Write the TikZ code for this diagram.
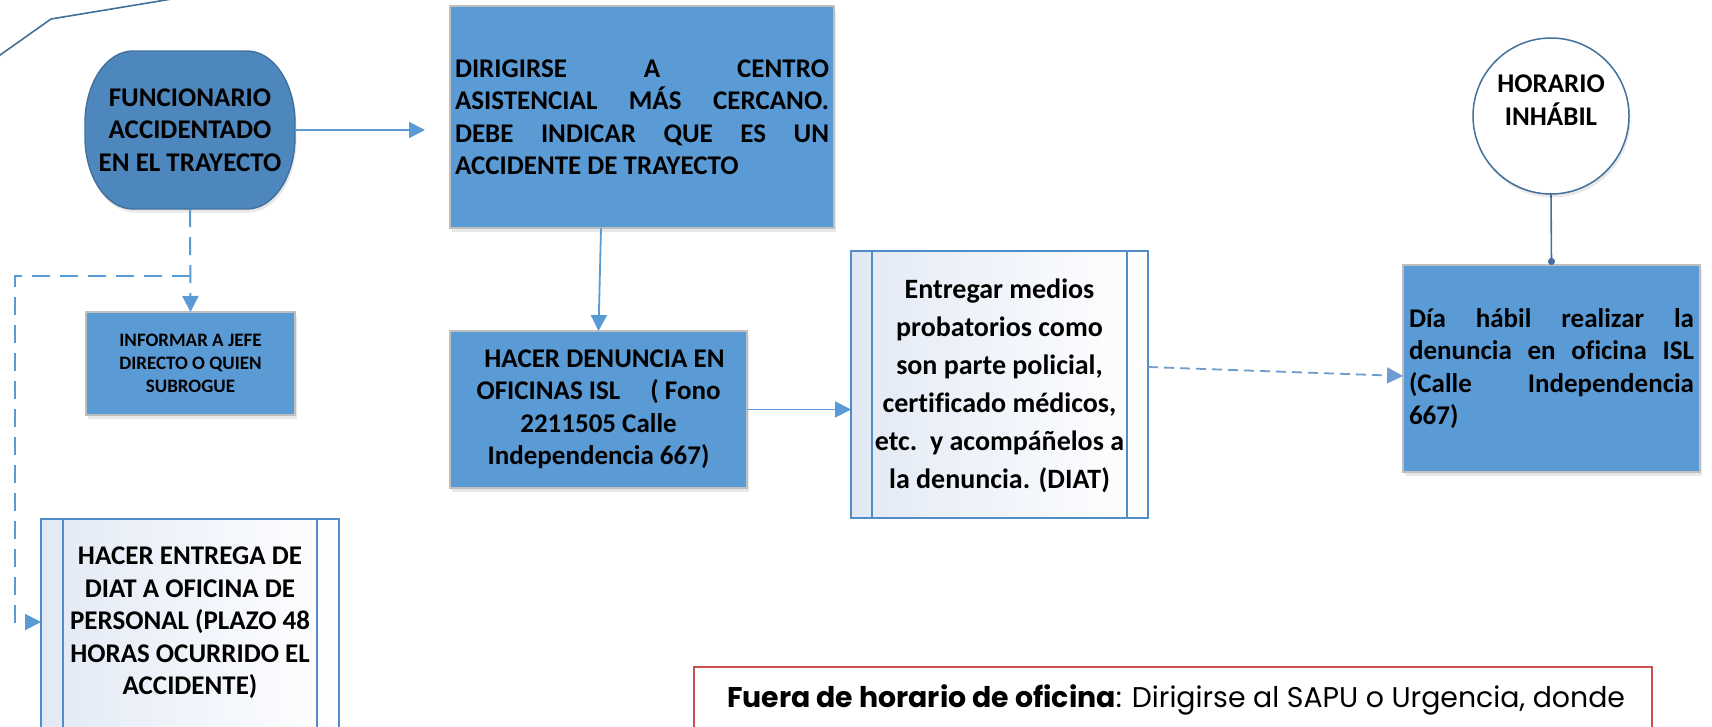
\documentclass[tikz,border=0pt]{standalone}
\usepackage{fontspec}
\setmainfont{Carlito}[Ligatures={NoCommon}]
\newfontfamily\gothic{Poppins}
\usepackage{graphicx}
\usetikzlibrary{arrows.meta,shadows,calc}
\definecolor{boxblue}{HTML}{5B9BD5}
\definecolor{ovalblue}{HTML}{4E87BD}
\definecolor{darkblue}{HTML}{41719C}
\definecolor{boxgrey}{HTML}{BFBFBF}
\definecolor{arrowblue}{HTML}{5B9BD5}
\definecolor{dasharrow}{HTML}{6E9BD0}
\definecolor{entborder}{HTML}{4F8DCB}
\definecolor{entlight}{HTML}{E2E9F5}
\definecolor{redline}{HTML}{C9504F}
\begin{document}
\begin{tikzpicture}[x=1pt,y=-1pt,
  every node/.style={inner sep=0pt,outer sep=0pt},
  bigtxt/.style={font=\fontsize{27}{32.5}\selectfont\bfseries},
  softshadow/.style={drop shadow={shadow xshift=1.5pt,shadow yshift=-3.5pt,opacity=.18,fill=gray}},
  bluebox/.style={draw=boxgrey,line width=1.6pt,fill=boxblue,softshadow},
  subbox/.style={draw=entborder,line width=1.6pt,left color=entlight,right color=white},
  conn/.style={draw=arrowblue,line width=1.8pt,-{Triangle[length=16pt,width=16pt]}},
  dconn/.style={conn,line width=2pt,dash pattern=on 18pt off 10pt},
  sconn/.style={draw=dasharrow,line width=1.8pt,dash pattern=on 10pt off 6pt,-{Triangle[length=16pt,width=16pt]}},
  dotconn/.style={draw=darkblue,line width=1.6pt,-{Circle[length=7pt]}}
]
\useasboundingbox (0,0) rectangle (1712,726);
\clip (0,0) rectangle (1712,726);
\fill[white] (0,0) rectangle (1712,726);

% top-left polyline
\coordinate (p1) at (-2,56.5);
\coordinate (p2) at (51,19);
\coordinate (p3) at (190,-4);
\draw[darkblue,line width=1.6pt] (p1) -- (p2) -- (p3);

% oval
\draw[fill=ovalblue,draw=darkblue,line width=1.4pt,softshadow]
  (133,51) -- (247,51) .. controls (273.5,51) and (295,83.2) .. (295,123)
  -- (295,137) .. controls (295,176.8) and (273.5,209) .. (247,209)
  -- (133,209) .. controls (106.5,209) and (85,176.8) .. (85,137)
  -- (85,123) .. controls (85,83.2) and (106.5,51) .. (133,51) -- cycle;
\node[bigtxt,align=center,minimum width=210pt,minimum height=158pt] (fun) at (190,130)
  {FUNCIONARIO\\ACCIDENTADO\\EN EL TRAYECTO};

% DIRIGIRSE box
\node[bluebox,bigtxt,align=left,minimum width=384pt,minimum height=222pt] (dir) at (642,117)
  {\makebox[374pt][s]{DIRIGIRSE A CENTRO}\\
   \makebox[374pt][s]{ASISTENCIAL MÁS CERCANO.}\\
   \makebox[374pt][s]{DEBE INDICAR QUE ES UN}\\
   \makebox[374pt][l]{ACCIDENTE DE TRAYECTO}};

% INFORMAR box
\node[bluebox,font=\fontsize{19}{23}\selectfont\bfseries,align=center,
      minimum width=209pt,minimum height=103pt] (inf) at (190.5,363.5)
  {INFORMAR A JEFE\\DIRECTO O QUIEN\\SUBROGUE};

% HACER DENUNCIA box
\node[bluebox,bigtxt,align=center,minimum width=297pt,minimum height=157pt] (hac) at (598.5,409.5)
  {\hspace*{12pt}HACER DENUNCIA EN\\OFICINAS ISL\hspace{24pt} ( Fono\\2211505 Calle\\Independencia 667)};

% Entregar box
\node[subbox,minimum width=297pt,minimum height=267pt] (ent) at (999.5,384.5) {};
\draw[entborder,line width=1.6pt] ([xshift=21pt]ent.north west) -- ([xshift=21pt]ent.south west);
\draw[entborder,line width=1.6pt] ([xshift=-21pt]ent.north east) -- ([xshift=-21pt]ent.south east);
\node[font=\fontsize{28}{38}\selectfont\bfseries,align=center] (entt) at (999.5,386)
  {Entregar medios\\probatorios como\\son parte policial,\\certificado médicos,\\etc.\ \ y acompáñelos a\\la denuncia. (DIAT)};

% HACER ENTREGA box
\node[subbox,minimum width=298pt,minimum height=242pt] (hent) at (190,640) {};
\draw[entborder,line width=1.6pt] ([xshift=22pt]hent.north west) -- ([xshift=22pt]hent.south west);
\draw[entborder,line width=1.6pt] ([xshift=-22pt]hent.north east) -- ([xshift=-22pt]hent.south east);
\node[bigtxt,align=center] (hentt) at (190,623)
  {HACER ENTREGA DE\\DIAT A OFICINA DE\\PERSONAL (PLAZO 48\\HORAS OCURRIDO EL\\ACCIDENTE)};

% circle
\node[circle,draw=darkblue,line width=1.5pt,fill=white,minimum size=156pt,softshadow] (circ) at (1551,116) {};
\node[bigtxt,align=center] (circt) at (1551,100) {HORARIO\\INHÁBIL};

% Dia habil box
\node[bluebox,bigtxt,align=left,minimum width=297pt,minimum height=207pt] (dia) at (1551.5,368.5)
  {\makebox[285pt][s]{Día hábil realizar la}\\
   \makebox[285pt][s]{denuncia en oficina ISL}\\
   \makebox[285pt][s]{(Calle Independencia}\\
   \makebox[285pt][l]{667)}};

% bottom note
\node[draw=redline,line width=1.6pt,fill=white,minimum width=958pt,minimum height=103pt] (fuera) at (1173,718.5) {};
\node[anchor=base west] (fuerat) at (727,707)
  {\resizebox{898pt}{\height}{\gothic\fontsize{28.5}{34}\selectfont{\bfseries Fuera de horario de oficina}: Dirigirse al SAPU o Urgencia, donde}};

% connectors
\coordinate (br) at (190,276);
\coordinate (c1) at (15,276);
\coordinate (c2) at (15,622);
\draw[conn,shorten >=25pt] (fun.east) -- (fun.east -| dir.west);
\draw[dconn] (fun.south) -- (inf.north);
\draw[dconn] (br) -- (c1) -- (c2) -- (c2 -| hent.west);
\draw[conn] ([xshift=-41pt]dir.south) -- (hac.north);
\draw[conn] (hac.east) -- (hac.east -| ent.west);
\draw[sconn] ([yshift=17.5pt]ent.east) -- ([yshift=-7.5pt]dia.west);
\draw[dotconn] (circ.south) -- (dia.north);
\end{tikzpicture}
\end{document}
